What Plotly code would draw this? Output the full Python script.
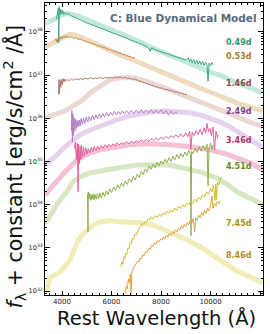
import plotly.graph_objects as go
import numpy as np

# ---------------- data (wavelength in Angstrom, log10 of f_lambda + constant) -------------
epochs = ["0.49d", "0.53d", "1.46d", "2.49d", "3.46d", "4.51d", "7.45d", "8.46d"]

# models (smooth, thick, translucent)
wl_mod_049 = [3313, 3515, 3717, 3919, 4121, 4323, 4525, 4727, 5131, 5535, 5939, 6343, 6747, 7151, 7555, 7959, 8363, 8767, 9171, 9575, 9979, 10383, 10787, 11191, 11595, 12120]
lf_mod_049 = [38.19, 38.23, 38.30, 38.37, 38.42, 38.42, 38.39, 38.35, 38.25, 38.16, 38.07, 37.98, 37.88, 37.77, 37.65, 37.56, 37.47, 37.35, 37.26, 37.17, 37.07, 37.00, 36.89, 36.80, 36.70, 36.59]

wl_mod_053 = [3313, 3515, 3717, 3919, 4121, 4323, 4525, 4727, 5131, 5535, 5939, 6343, 6747, 7151, 7555, 7959, 8363, 8767, 9171, 9575, 9979, 10383, 10787, 11191, 11595, 12120]
lf_mod_053 = [37.65, 37.70, 37.77, 37.84, 37.91, 37.95, 37.93, 37.89, 37.79, 37.68, 37.56, 37.47, 37.38, 37.28, 37.19, 37.07, 36.98, 36.89, 36.80, 36.70, 36.61, 36.52, 36.40, 36.33, 36.26, 36.17]

wl_mod_146 = [3313, 3717, 4121, 4525, 4848, 5131, 5535, 5737, 5939, 6343, 6868, 7353, 7757, 8161, 8565, 8969, 9373, 9777, 10181, 10585, 10989, 11393, 11797, 12120]
lf_mod_146 = [36.01, 36.08, 36.17, 36.31, 36.43, 36.59, 36.73, 36.82, 36.89, 36.94, 36.94, 36.87, 36.80, 36.70, 36.61, 36.52, 36.43, 36.36, 36.24, 36.15, 36.06, 35.96, 35.87, 35.80]

wl_mod_249 = [3313, 3717, 4121, 4444, 4727, 5131, 5535, 5939, 6343, 6747, 7151, 7676, 8161, 8646, 9171, 9575, 9979, 10383, 10787, 11191, 11595, 12120]
lf_mod_249 = [34.92, 35.11, 35.34, 35.50, 35.62, 35.73, 35.82, 35.92, 35.99, 36.06, 36.10, 36.15, 36.17, 36.15, 36.13, 36.08, 36.01, 35.92, 35.80, 35.66, 35.50, 35.32]

wl_mod_346 = [3313, 3717, 4121, 4606, 5131, 5535, 6141, 6747, 7555, 8363, 9171, 9979, 10585, 11191, 11595, 12120]
lf_mod_346 = [34.23, 34.51, 34.76, 35.04, 35.20, 35.27, 35.34, 35.39, 35.41, 35.39, 35.34, 35.27, 35.18, 35.06, 34.97, 34.81]

wl_mod_451 = [3313, 3596, 3919, 4202, 4444, 4727, 5131, 5818, 6343, 7030, 7676, 8363, 8888, 9575, 10262, 10666, 11070, 11595, 12120]
lf_mod_451 = [33.56, 33.81, 34.11, 34.30, 34.53, 34.64, 34.74, 34.81, 34.85, 34.92, 34.92, 34.92, 34.85, 34.76, 34.62, 34.48, 34.30, 34.16, 34.00]

wl_mod_late = [3313, 3394, 3515, 3717, 3919, 4121, 4323, 4485, 4606, 4808, 5010, 5252, 5535, 5939, 6464, 7151, 7676, 8282, 8969, 9656, 10302, 10989, 11595, 12120]
lf_mod_late = [31.98, 32.03, 32.31, 32.38, 32.45, 32.58, 32.72, 32.95, 33.12, 33.30, 33.42, 33.53, 33.60, 33.63, 33.60, 33.58, 33.53, 33.39, 33.21, 33.00, 32.75, 32.49, 32.33, 32.19]

# observed spectra (thin, noisy)
wl_obs_049 = [3780, 3820, 3850, 3870, 3890, 3920, 3950, 3990, 4030, 4070, 4120, 4180, 4250, 4350, 4450, 4550, 4650, 4750, 4850, 4950, 5100, 5250, 5400, 5550, 5700, 5850, 6000, 6150, 6300, 6450, 6600, 6750, 6900, 7050, 7200, 7350, 7500, 7560, 7620, 7800, 7950, 8100, 8250, 8400, 8550, 8700, 8850, 9000, 9100, 9150, 9200, 9260, 9320, 9380, 9440, 9500, 9560, 9620, 9680, 9740, 9800, 9860, 9900, 9940, 10000, 10060, 10100]
lf_obs_049 = [38.30, 38.45, 38.55, 37.75, 38.58, 38.40, 38.52, 38.42, 38.50, 38.40, 38.45, 38.41, 38.43, 38.38, 38.36, 38.33, 38.30, 38.28, 38.25, 38.22, 38.19, 38.15, 38.12, 38.09, 38.06, 38.02, 37.99, 37.96, 37.92, 37.89, 37.86, 37.82, 37.79, 37.75, 37.72, 37.68, 37.63, 37.55, 37.63, 37.58, 37.55, 37.52, 37.49, 37.46, 37.43, 37.41, 37.38, 37.35, 37.40, 37.31, 37.38, 37.28, 37.36, 37.27, 37.35, 37.25, 37.33, 37.24, 37.32, 37.22, 37.30, 37.23, 36.86, 37.28, 37.22, 37.29, 37.24]

wl_obs_053 = [3700, 3760, 3800, 3850, 3900, 3950, 4000, 4050, 4100, 4150, 4200, 4260, 4330, 4400, 4480, 4560, 4650, 4750, 4850, 4950, 5050, 5150, 5250, 5350, 5450, 5550, 5650, 5750, 5850, 5950, 6050, 6150, 6250, 6350, 6450, 6550, 6650, 6750, 6850, 6950]
lf_obs_053 = [37.80, 37.84, 37.76, 37.86, 37.82, 37.89, 37.85, 37.90, 37.86, 37.92, 37.87, 37.90, 37.86, 37.89, 37.85, 37.87, 37.83, 37.84, 37.80, 37.79, 37.76, 37.75, 37.72, 37.71, 37.68, 37.67, 37.64, 37.63, 37.60, 37.59, 37.56, 37.55, 37.52, 37.51, 37.48, 37.47, 37.44, 37.43, 37.40, 37.40]

wl_obs_146 = [3860, 3880, 3900, 3920, 3950, 3980, 4010, 4040, 4080, 4120, 4170, 4230, 4300, 4380, 4460, 4550, 4650, 4750, 4850, 4950, 5050, 5150, 5250, 5350, 5450, 5550, 5650, 5750, 5850, 5950, 6050, 6150, 6250, 6350, 6450, 6550, 6650, 6750, 6850, 6950, 7050, 7150, 7250, 7350, 7450, 7550, 7650, 7750, 7850, 7950, 8050, 8150, 8250, 8350, 8450, 8550, 8650, 8750, 8850, 8950, 9050]
lf_obs_146 = [36.55, 36.90, 36.58, 36.88, 36.72, 36.90, 36.78, 36.92, 36.84, 36.91, 36.86, 36.90, 36.87, 36.91, 36.88, 36.92, 36.89, 36.92, 36.90, 36.93, 36.91, 36.94, 36.91, 36.94, 36.92, 36.95, 36.92, 36.95, 36.93, 36.95, 36.93, 36.96, 36.94, 36.96, 36.93, 36.95, 36.92, 36.93, 36.90, 36.91, 36.88, 36.86, 36.85, 36.82, 36.81, 36.78, 36.77, 36.74, 36.73, 36.70, 36.70, 36.67, 36.67, 36.64, 36.64, 36.61, 36.61, 36.58, 36.58, 36.55, 36.55]

wl_obs_249 = [4380, 4400, 4420, 4440, 4460, 4490, 4520, 4550, 4580, 4610, 4650, 4690, 4730, 4770, 4820, 4870, 4920, 4980, 5040, 5100, 5160, 5230, 5300, 5370, 5440, 5510, 5580, 5650, 5720, 5800, 5880, 5960, 6040, 6120, 6200, 6280, 6360, 6440, 6520, 6600, 6700, 6800, 6900, 7000, 7100, 7200, 7300, 7400, 7500, 7600, 7700, 7800, 7900, 8000, 8100, 8200, 8300, 8400, 8500, 8600, 8650]
lf_obs_249 = [35.70, 36.18, 35.46, 36.10, 35.60, 36.02, 35.70, 35.98, 35.76, 35.95, 35.80, 35.96, 35.82, 35.99, 35.86, 36.00, 35.88, 36.03, 35.91, 36.04, 35.94, 36.07, 35.97, 36.08, 35.99, 36.10, 36.01, 36.11, 36.03, 36.13, 36.05, 36.14, 36.07, 36.16, 36.08, 36.16, 36.09, 36.17, 36.10, 36.18, 36.11, 36.18, 36.11, 36.19, 36.12, 36.20, 36.12, 36.19, 36.12, 36.20, 36.11, 36.19, 36.12, 36.20, 36.10, 36.18, 36.07, 36.17, 36.09, 36.15, 36.11]

wl_obs_346 = [4500, 4540, 4580, 4620, 4650, 4670, 4700, 4730, 4760, 4790, 4830, 4870, 4910, 4960, 5010, 5060, 5120, 5180, 5240, 5300, 5370, 5440, 5510, 5580, 5660, 5740, 5820, 5900, 5980, 6060, 6140, 6220, 6300, 6400, 6500, 6600, 6700, 6800, 6900, 7000, 7100, 7200, 7300, 7400, 7500, 7600, 7700, 7800, 7900, 8000, 8100, 8200, 8300, 8400, 8500, 8600, 8700, 8800, 8900, 9000, 9080, 9160, 9200, 9260, 9340, 9420, 9500, 9580, 9660, 9740, 9800, 9860, 9920, 9980, 10040, 10100, 10160, 10220, 10280, 10300]
lf_obs_346 = [35.30, 35.45, 35.05, 35.42, 34.30, 35.40, 34.95, 35.35, 35.05, 35.38, 35.10, 35.33, 35.13, 35.32, 35.17, 35.30, 35.20, 35.33, 35.23, 35.35, 35.26, 35.36, 35.28, 35.37, 35.31, 35.39, 35.33, 35.40, 35.35, 35.41, 35.36, 35.43, 35.38, 35.44, 35.40, 35.46, 35.41, 35.47, 35.43, 35.48, 35.44, 35.50, 35.46, 35.51, 35.47, 35.53, 35.49, 35.55, 35.50, 35.56, 35.52, 35.58, 35.53, 35.60, 35.55, 35.62, 35.56, 35.64, 35.57, 35.66, 35.58, 35.70, 35.27, 35.68, 35.60, 35.72, 35.63, 35.75, 35.62, 35.78, 35.66, 35.88, 35.68, 35.76, 35.60, 35.80, 35.27, 35.70, 35.55, 35.62]

wl_obs_451 = [5030, 5050, 5060, 5090, 5120, 5150, 5180, 5210, 5250, 5290, 5330, 5380, 5430, 5480, 5530, 5590, 5650, 5720, 5790, 5860, 5930, 6000, 6080, 6160, 6240, 6320, 6400, 6480, 6560, 6640, 6720, 6800, 6880, 6960, 7040, 7120, 7200, 7280, 7360, 7440, 7520, 7600, 7680, 7760, 7840, 7920, 8000, 8080, 8160, 8240, 8320, 8400, 8480, 8560, 8640, 8720, 8800, 8880, 8960, 9040, 9120, 9190, 9212, 9235, 9300, 9380, 9460, 9540, 9620, 9700, 9780, 9860, 9900, 9940, 10000, 10060, 10100]
lf_obs_451 = [34.24, 33.37, 34.30, 34.14, 34.26, 34.10, 34.23, 34.12, 34.25, 34.11, 34.24, 34.13, 34.26, 34.14, 34.27, 34.16, 34.29, 34.19, 34.32, 34.23, 34.37, 34.28, 34.41, 34.33, 34.46, 34.38, 34.50, 34.42, 34.55, 34.47, 34.60, 34.52, 34.65, 34.57, 34.71, 34.63, 34.77, 34.70, 34.83, 34.76, 34.90, 34.82, 34.94, 34.86, 34.98, 34.90, 35.01, 34.94, 35.05, 34.97, 35.09, 35.00, 35.12, 35.04, 35.16, 35.07, 35.19, 35.10, 35.22, 35.13, 35.26, 35.16, 33.28, 35.24, 35.18, 35.31, 35.21, 35.34, 35.24, 35.37, 35.27, 35.40, 34.44, 35.30, 35.42, 35.29, 35.38]

wl_obs_745 = [6380, 6420, 6460, 6500, 6540, 6580, 6620, 6660, 6700, 6750, 6800, 6850, 6900, 6950, 7000, 7060, 7120, 7180, 7240, 7300, 7360, 7420, 7480, 7540, 7600, 7680, 7760, 7840, 7920, 8000, 8080, 8160, 8240, 8320, 8400, 8480, 8560, 8640, 8720, 8800, 8880, 8960, 9040, 9120, 9200, 9280, 9360, 9440, 9520, 9600, 9680, 9760, 9840, 9920, 10000, 10060, 10120, 10180, 10210, 10240, 10280, 10340, 10400, 10460]
lf_obs_745 = [32.56, 32.68, 32.62, 32.80, 32.76, 32.88, 32.86, 33.00, 32.98, 33.12, 33.10, 33.22, 33.20, 33.32, 33.30, 33.40, 33.46, 33.49, 33.57, 33.54, 33.62, 33.59, 33.68, 33.65, 33.72, 33.67, 33.75, 33.70, 33.78, 33.73, 33.81, 33.76, 33.85, 33.80, 33.88, 33.83, 33.92, 33.87, 33.96, 33.91, 34.00, 33.95, 34.04, 33.99, 34.09, 34.03, 34.13, 34.07, 34.17, 34.12, 34.23, 34.18, 34.30, 34.24, 34.37, 34.30, 34.45, 34.10, 34.48, 34.12, 34.52, 34.46, 34.60, 34.64]

wl_obs_846 = [6560, 6600, 6640, 6680, 6720, 6760, 6790, 6820, 6860, 6900, 6950, 7000, 7050, 7100, 7150, 7200, 7260, 7320, 7380, 7440, 7500, 7560, 7620, 7680, 7740, 7800, 7860, 7920, 7980, 8040, 8100, 8160, 8220, 8280, 8340, 8400, 8460, 8520, 8580, 8640, 8700, 8760, 8820, 8880, 8940, 9000, 9060, 9120, 9180, 9240, 9300, 9360, 9400, 9460, 9520, 9580, 9640, 9700, 9760, 9820, 9880, 9940, 10000, 10060, 10100, 10160, 10220, 10280, 10340, 10380]
lf_obs_846 = [31.95, 32.12, 32.05, 32.28, 32.20, 32.40, 31.90, 32.42, 32.50, 32.55, 32.60, 32.64, 32.70, 32.67, 32.76, 32.74, 32.84, 32.82, 32.92, 32.89, 32.99, 32.97, 33.06, 33.04, 33.12, 33.09, 33.17, 33.14, 33.21, 33.18, 33.26, 33.21, 33.30, 33.25, 33.34, 33.29, 33.38, 33.32, 33.42, 33.37, 33.46, 33.41, 33.51, 33.45, 33.55, 33.49, 33.59, 33.53, 33.64, 33.57, 33.68, 33.37, 33.70, 33.64, 33.76, 33.70, 33.82, 33.75, 33.87, 33.80, 33.92, 33.86, 33.98, 34.20, 33.92, 34.04, 33.97, 34.08, 34.02, 34.09]

label_logf = [37.75, 37.42, 36.80, 36.15, 35.48, 34.88, 33.56, 32.82]

x_ticks = [4000, 6000, 8000, 10000, 12000]
y_exps = [32, 33, 34, 35, 36, 37, 38]

# ---------------- styles -------------
models = [
    (wl_mod_049, lf_mod_049, "rgba(120,205,170,0.45)"),
    (wl_mod_053, lf_mod_053, "rgba(218,175,115,0.45)"),
    (wl_mod_146, lf_mod_146, "rgba(215,178,168,0.50)"),
    (wl_mod_249, lf_mod_249, "rgba(205,165,218,0.50)"),
    (wl_mod_346, lf_mod_346, "rgba(238,130,175,0.50)"),
    (wl_mod_451, lf_mod_451, "rgba(178,208,135,0.50)"),
    (wl_mod_late, lf_mod_late, "rgba(228,222,125,0.55)"),
]
observed = [
    (wl_obs_049, lf_obs_049, "#3aaa86"),
    (wl_obs_053, lf_obs_053, "#c48a42"),
    (wl_obs_146, lf_obs_146, "#b07a72"),
    (wl_obs_249, lf_obs_249, "#b47cc6"),
    (wl_obs_346, lf_obs_346, "#e2609c"),
    (wl_obs_451, lf_obs_451, "#8cb04c"),
    (wl_obs_745, lf_obs_745, "#d2bc30"),
    (wl_obs_846, lf_obs_846, "#e2a440"),
]
label_colors = ["#2a9a72", "#b07a2e", "#8a4a48", "#7e3e8a", "#b2306c", "#628a22", "#9e961a", "#b08a2c"]

fig = go.Figure()
for wl, lf, c in models:
    fig.add_trace(go.Scatter(x=wl, y=10 ** np.array(lf), mode="lines",
                             line=dict(color=c, width=5), hoverinfo="skip"))
for wl, lf, c in observed:
    fig.add_trace(go.Scatter(x=wl, y=10 ** np.array(lf), mode="lines",
                             line=dict(color=c, width=1), hoverinfo="skip"))

for lab, lf, c in zip(epochs, label_logf, label_colors):
    fig.add_annotation(x=11150, y=lf, xref="x", yref="y", text="<b>" + lab + "</b>",
                       showarrow=False, font=dict(family="DejaVu Sans", size=8, color=c),
                       xanchor="center", yanchor="middle")

fig.add_annotation(x=0.635, y=0.95, xref="paper", yref="paper",
                   text="<b>C: Blue Dynamical Model</b>", showarrow=False,
                   font=dict(family="DejaVu Sans", size=10.5, color="#5a6a7e"),
                   xanchor="center", yanchor="middle")

fig.add_annotation(x=0, y=0.44, xref="paper", yref="paper", xshift=-30,
                   text="<i>f</i><sub>λ</sub> + constant [erg/s/cm<sup>2</sup> /Å]",
                   textangle=-90, showarrow=False,
                   font=dict(family="DejaVu Sans", size=20.5, color="#111"),
                   xanchor="center", yanchor="middle")

fig.add_annotation(x=0.51, y=0, xref="paper", yref="paper", yshift=-23,
                   text="Rest Wavelength (Å)", showarrow=False,
                   font=dict(family="DejaVu Sans", size=19.5, color="#111"),
                   xanchor="center", yanchor="middle")

minor_y = [m * 10.0 ** e for e in range(31, 39) for m in range(2, 10)]

axis_common = dict(showline=True, linecolor="black", linewidth=1, mirror="allticks",
                   ticks="inside", tickcolor="black", showgrid=False, zeroline=False,
                   automargin=False)

fig.update_xaxes(range=[3313, 12120], tickvals=x_ticks, ticktext=[str(v) for v in x_ticks],
                 ticklen=4, tickfont=dict(family="DejaVu Sans", size=7, color="#222"),
                 minor=dict(dtick=250, tick0=0, ticks="inside", ticklen=2, tickcolor="black"),
                 **axis_common)
fig.update_yaxes(type="log", range=[31.91, 38.67],
                 tickvals=[10.0 ** e for e in y_exps],
                 ticktext=["10<sup>%d</sup>" % e for e in y_exps],
                 ticklen=5, tickfont=dict(family="DejaVu Sans", size=6.5, color="#222"),
                 minor=dict(tickvals=minor_y, ticks="inside", ticklen=2, tickcolor="black"),
                 **axis_common)

fig.update_layout(width=270, height=334, margin=dict(l=45, r=7, t=3, b=39, autoexpand=False),
                  plot_bgcolor="white", paper_bgcolor="white", showlegend=False)

fig.write_html("out.html", config={"displayModeBar": False},
               post_script="document.body.style.margin='0';document.body.style.padding='0';"
                           "document.body.style.overflow='hidden';")
